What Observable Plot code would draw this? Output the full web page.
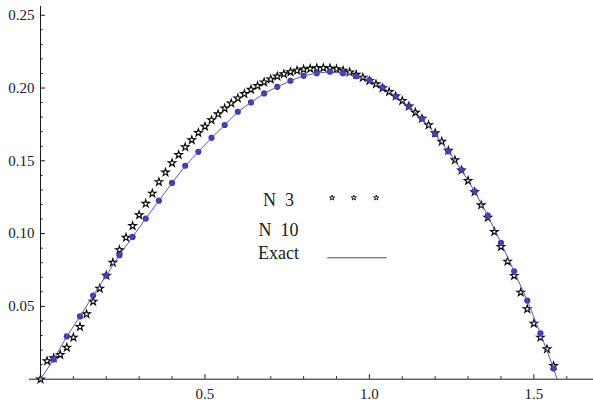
<!DOCTYPE html>
<html><head><meta charset="utf-8">
<script src="https://cdn.jsdelivr.net/npm/d3@7"></script>
<script src="https://cdn.jsdelivr.net/npm/@observablehq/plot@0.6"></script>
<style>body{margin:0;background:#fff} svg{display:block} svg text{font-family:"Liberation Serif", serif !important; font-variant:normal !important;}</style>
</head><body><div id="chart"></div>
<script>
// N = 3 approximation (stars)
const starX = [0,0.02,0.04,0.06,0.08,0.10,0.12,0.14,0.16,0.18,0.20,0.22,0.24,0.26,0.28,0.30,0.32,0.34,0.36,0.38,
  0.40,0.42,0.44,0.46,0.48,0.50,0.52,0.54,0.56,0.58,0.60,0.62,0.64,0.66,0.68,0.70,0.72,0.74,0.76,0.78,
  0.80,0.82,0.84,0.86,0.88,0.90,0.92,0.94,0.96,0.98,1.00,1.02,1.04,1.06,1.08,1.10,1.12,1.14,1.16,1.18,
  1.20,1.22,1.24,1.26,1.28,1.30,1.32,1.34,1.36,1.38,1.40,1.42,1.44,1.46,1.48,1.50,1.52,1.54,1.56];
const starY = [0,0.0125,0.0145,0.0168,0.0218,0.0287,0.0360,0.0447,0.0534,0.0623,0.0712,0.0801,0.0888,0.0973,0.1053,0.1128,0.1206,0.1276,0.1355,0.1421,
  0.1485,0.1542,0.1594,0.1643,0.1693,0.1736,0.1780,0.1821,0.1860,0.1895,0.1930,0.1960,0.1990,0.2015,0.2040,0.2060,0.2080,0.2096,0.2110,0.2120,
  0.2128,0.2133,0.2137,0.2138,0.2136,0.2130,0.2120,0.2108,0.2092,0.2072,0.2050,0.2027,0.2000,0.1974,0.1944,0.1913,0.1875,0.1832,0.1790,0.1745,
  0.1690,0.1633,0.1570,0.1505,0.1435,0.1363,0.1285,0.1196,0.1110,0.1013,0.0910,0.0809,0.0711,0.0596,0.0482,0.0383,0.0287,0.0207,0.0092];
// N = 10 approximation (dots)
const dotX = [0.04,0.08,0.12,0.16,0.20,0.24,0.28,0.32,0.36,0.40,0.44,0.48,0.52,0.56,0.60,0.64,0.68,0.72,0.76,0.80,
  0.84,0.88,0.92,0.96,1.00,1.04,1.08,1.12,1.16,1.20,1.24,1.28,1.32,1.36,1.40,1.44,1.48,1.52,1.56];
const dotY = [0.0136,0.0294,0.0431,0.0575,0.0712,0.0852,0.0977,0.1103,0.1226,0.1348,0.1466,0.1562,0.1658,0.1746,0.1837,0.1901,0.1963,0.2008,0.2050,0.2084,
  0.2102,0.2112,0.2102,0.2081,0.2055,0.2004,0.1943,0.1874,0.1790,0.1684,0.1565,0.1437,0.1290,0.1123,0.0937,0.0741,0.0540,0.0315,0.0074];
// Exact solution
const exactX = [0, ...dotX, 1.5708];
const exactY = [0, ...dotY, 0];

// axes
const xMajor = [0.5, 1.0, 1.5];
const xMinor = [0.1,0.2,0.3,0.4,0.6,0.7,0.8,0.9,1.1,1.2,1.3,1.4,1.6];
const yMajor = [0.05, 0.10, 0.15, 0.20, 0.25];
const yMinor = [0.01,0.02,0.03,0.04,0.06,0.07,0.08,0.09,0.11,0.12,0.13,0.14,0.16,0.17,0.18,0.19,0.21,0.22,0.23,0.24];
const xDomain = [0, 1.6814];
const yDomain = [0, 0.256];
const xAxisStart = -0.0334;

// legend
const legendText = [
  {label: "N  3", x: 0.7236, y: 0.1193},
  {label: "N  10", x: 0.7236, y: 0.0987},
  {label: "Exact", x: 0.7236, y: 0.0823}
];
const legendStars = [{x: 0.8867, y: 0.1246}, {x: 0.9526, y: 0.1246}, {x: 1.0207, y: 0.1246}];
const legendLine = [{x1: 0.8735, x2: 1.0541, y: 0.0834}];

const stars = starX.map((x, i) => ({x, y: starY[i]}));
const dots = dotX.map((x, i) => ({x, y: dotY[i]}));
const exact = exactX.map((x, i) => ({x, y: exactY[i]}));

const blue = "#3c3ca6";
const ink = "#1a1a1a";
const serif = "Liberation Serif";

const chart = Plot.plot({
  width: 593, height: 407,
  marginLeft: 40, marginRight: 0, marginTop: 6, marginBottom: 28.3,
  x: {domain: xDomain, label: null},
  y: {domain: yDomain, label: null},
  style: {fontFamily: serif, fontSize: "15px", color: ink, background: "#fff"},
  marks: [
    Plot.ruleY([0], {x1: xAxisStart, x2: xDomain[1], stroke: ink, strokeWidth: 1}),
    Plot.ruleX([0], {y1: 0, y2: yDomain[1], stroke: ink, strokeWidth: 1}),
    Plot.axisX({ticks: xMinor, tickSize: -2.5, text: null, label: null, stroke: ink}),
    Plot.axisX({ticks: xMajor, tickSize: -4.5, tickPadding: 13.5, label: null, tickFormat: d => d.toFixed(1), stroke: ink, fill: ink, fontSize: 15, fontFamily: serif, fontVariant: "normal"}),
    Plot.axisY({ticks: yMinor, tickSize: -2.7, text: null, label: null, stroke: ink}),
    Plot.axisY({ticks: yMajor, tickSize: -5, tickPadding: 11, label: null, tickFormat: d => d.toFixed(2), stroke: ink, fill: ink, fontSize: 15, fontFamily: serif, fontVariant: "normal"}),
    Plot.dot(stars, {x: "x", y: "y", symbol: "star", r: 2.4, fill: "#fff", stroke: "#000", strokeWidth: 1.1}),
    Plot.dot(dots, {x: "x", y: "y", r: 3.1, fill: blue, stroke: "none"}),
    Plot.line(exact, {x: "x", y: "y", stroke: "#5a5ab8", strokeWidth: 1}),
    Plot.text(legendText, {x: "x", y: "y", text: "label", textAnchor: "middle", lineAnchor: "bottom", fontSize: 18, fontFamily: serif, fill: ink}),
    Plot.dot(legendStars, {x: "x", y: "y", symbol: "star", r: 1.6, fill: "#fff", stroke: "#000", strokeWidth: 0.9}),
    Plot.ruleY(legendLine, {x1: "x1", x2: "x2", y: "y", stroke: ink, strokeWidth: 0.8})
  ]
});
document.getElementById("chart").appendChild(chart);
</script>
</body></html>
